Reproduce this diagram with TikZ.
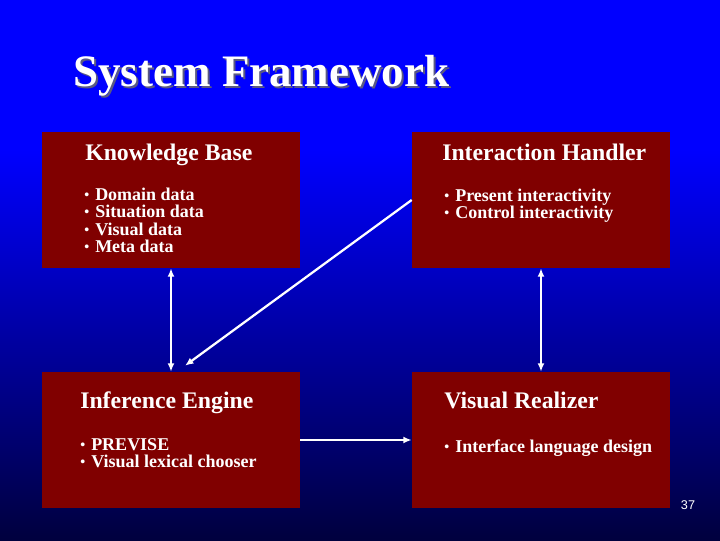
\documentclass[tikz,border=0pt]{standalone}
\usepackage{fontspec}
\setmainfont{Liberation Serif}
\setsansfont{Liberation Sans}
\usetikzlibrary{arrows, arrows.meta, positioning, calc}
\definecolor{slideblue}{RGB}{0,0,255}
\definecolor{deepblue}{RGB}{0,0,62}
\definecolor{boxred}{RGB}{128,0,0}
\definecolor{titleshadow}{RGB}{90,90,130}
\tikzset{
  module/.style={fill=boxred, minimum width=6.45cm, minimum height=3.4cm, inner sep=0pt},
  heading/.style={anchor=base west, text=white, inner sep=0pt, font=\bfseries\fontsize{16.9}{19}\selectfont},
  item/.style={anchor=base west, text=white, inner sep=0pt, font=\bfseries\fontsize{12.8}{14}\selectfont},
  link/.style={white, line width=1.6pt, -{Latex[length=6pt,width=5pt]}},
  dlink/.style={link, {Latex[length=6pt,width=5pt]}-{Latex[length=6pt,width=5pt]}}
}
\newcommand{\itembullet}{\makebox[7.8pt][l]{\raisebox{0.6pt}{\fontsize{10}{10}\selectfont\textbullet}}}
\begin{document}
\begin{tikzpicture}[x=0.025cm, y=-0.025cm]
  % background
  \useasboundingbox (0,0) rectangle (720,540);
  \fill[slideblue] (0,0) rectangle (720,150);
  \shade[top color=slideblue, bottom color=deepblue] (0,150) rectangle (720,540);
  % title
  \node[anchor=base west, text=titleshadow, inner sep=0pt, font=\bfseries\fontsize{32}{36}\selectfont] at (75,88) {System Framework};
  \node[anchor=base west, text=white, inner sep=0pt, font=\bfseries\fontsize{32}{36}\selectfont] (title) at (73,86) {System Framework};
  % modules
  \node[module] (kb) at (171,200) {};
  \node[module] (ih) at (541,200) {};
  \node[module] (ie) at (171,440) {};
  \node[module] (vr) at (541,440) {};
  % Knowledge Base
  \node[heading] (kbhead) at (85,160) {Knowledge Base};
  \foreach \txt [count=\i] in {Domain data, Situation data, Visual data, Meta data}
    \node[item] (kb-\i) at (84,183.2+17.3*\i) {\itembullet\txt};
  % Interaction Handler
  \node[heading] (ihhead) at (442,160) {Interaction Handler};
  \foreach \txt [count=\i] in {Present interactivity, Control interactivity}
    \node[item] (ih-\i) at (444,183.7+17.3*\i) {\itembullet\txt};
  % Inference Engine
  \node[heading] (iehead) at (80,408) {Inference Engine};
  \foreach \txt [count=\i] in {PREVISE, Visual lexical chooser}
    \node[item] (ie-\i) at (80,432.7+17.3*\i) {\itembullet\txt};
  % Visual Realizer
  \node[heading] (vrhead) at (444,408) {Visual Realizer};
  \node[item] (vr-1) at (444,452) {\itembullet Interface language design};
  % connectors
  \coordinate (ietip) at ($(ie.north)+(14,-6)$);
  \draw[dlink] (kb.south) -- (ie.north);
  \draw[dlink] (ih.south) -- (vr.north);
  \draw[link] (ie.east) -- (vr.west);
  \draw[link] (ih.west) -- (ietip);
  % slide number
  \node[text=white, inner sep=0pt, anchor=base, font=\sffamily\fontsize{9}{10}\selectfont] (pagenum) at (688,509) {37};
\end{tikzpicture}
\end{document}
